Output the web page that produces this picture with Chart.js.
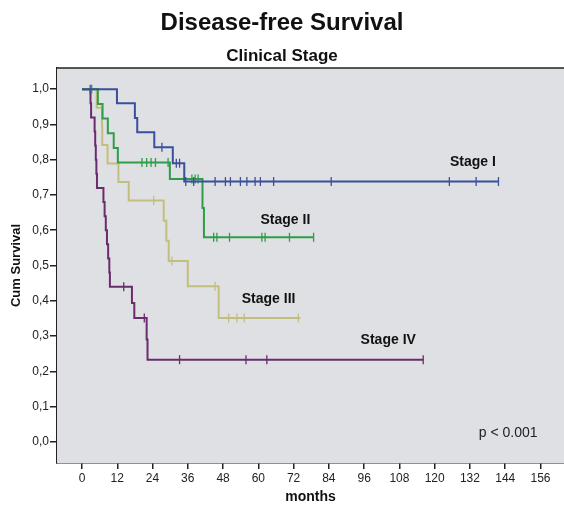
<!DOCTYPE html>
<html>
<head>
<meta charset="utf-8">
<script src="https://cdn.jsdelivr.net/npm/chart.js@4.4.0/dist/chart.umd.min.js"></script>
<style>
  html, body { margin: 0; padding: 0; background: #fff; overflow: hidden; }
  canvas { display: block; }
</style>
</head>
<body>
<canvas id="kmChart" width="564" height="506"></canvas>
<script>
// Kaplan-Meier curves: event times (months) and cum survival after each step
const timesI  = [0, 11.9, 18.0, 18.8, 24.6, 30.9, 34.8, 141.7];
const survI   = [1.0, 0.96, 0.918, 0.878, 0.835, 0.79, 0.738, 0.738];
const censI   = [2.8, 27.2, 32.1, 33.2, 35.3, 38.0, 45.3, 48.8, 50.5, 53.9, 56.1, 58.9, 60.7, 65.2, 84.8, 125.0, 134.1, 141.7];

const timesII = [0, 5.4, 7.0, 8.8, 10.8, 12.2, 29.9, 41.0, 41.5, 78.8];
const survII  = [1.0, 0.958, 0.917, 0.875, 0.833, 0.792, 0.745, 0.663, 0.58, 0.58];
const censII  = [3.3, 20.4, 22.0, 23.5, 25.0, 29.3, 37.4, 38.5, 39.5, 44.8, 45.9, 50.2, 61.2, 62.3, 70.6, 78.8];

const timesIII = [0, 5.0, 6.8, 6.9, 8.7, 12.4, 15.9, 27.8, 28.7, 29.5, 36.0, 46.5, 74.3];
const survIII  = [1.0, 0.947, 0.895, 0.842, 0.789, 0.737, 0.684, 0.627, 0.570, 0.513, 0.441, 0.351, 0.351];
const censIII  = [24.4, 30.6, 45.3, 49.9, 52.7, 55.2, 73.6];

const timesIV = [0, 2.9, 3.1, 4.3, 4.5, 4.7, 4.9, 5.1, 7.3, 7.7, 8.1, 8.5, 8.9, 9.3, 9.5, 17.0, 17.8, 22.0, 22.3, 116.1];
const survIV  = [1.0, 0.96, 0.92, 0.88, 0.84, 0.80, 0.76, 0.72, 0.68, 0.64, 0.60, 0.56, 0.52, 0.48, 0.44, 0.394, 0.351, 0.29, 0.233, 0.233];
const censIV  = [14.2, 21.2, 33.2, 55.8, 62.9, 116.1];

const stageLabels = ['Stage I', 'Stage II', 'Stage III', 'Stage IV'];
const xTicks = [0, 12, 24, 36, 48, 60, 72, 84, 96, 108, 120, 132, 144, 156];
const yTicks = [0, 0.1, 0.2, 0.3, 0.4, 0.5, 0.6, 0.7, 0.8, 0.9, 1.0];

const colors = ['#3b4f9d', '#2f9d48', '#c4be7e', '#6b2b6f'];

// survival value of the step curve at time t
function survAt(times, surv, t) {
    let s = surv[0];
    for (let i = 0; i < times.length; i++) {
        if (times[i] <= t) s = surv[i];
    }
    return s;
}

const curves = [
    [timesI, survI, censI],
    [timesII, survII, censII],
    [timesIII, survIII, censIII],
    [timesIV, survIV, censIV]
];

const datasets = [];
curves.forEach(([t, s, c], i) => {
    datasets.push({
        label: stageLabels[i],
        data: t.map((v, k) => ({ x: v, y: s[k] })),
        borderColor: colors[i],
        borderWidth: 2,
        stepped: true,
        pointRadius: 0,
        fill: false
    });
    datasets.push({
        label: stageLabels[i] + ' censored',
        data: c.map(v => ({ x: v, y: survAt(t, s, v) })),
        showLine: false,
        borderColor: colors[i],
        backgroundColor: colors[i],
        pointStyle: 'line',
        rotation: 90,
        pointRadius: 4.5,
        pointBorderWidth: 1.3
    });
});

// background of plot, frame, titles and in-plot labels
const decorations = {
    id: 'decorations',
    beforeDatasetsDraw(chart) {
        const { ctx, chartArea: a } = chart;
        ctx.save();
        ctx.fillStyle = '#dfe0e3';
        ctx.fillRect(a.left, a.top, a.right - a.left, a.bottom - a.top);
        ctx.restore();
    },
    afterDraw(chart) {
        const { ctx, chartArea: a, scales: { x, y } } = chart;
        ctx.save();
        ctx.strokeStyle = '#222';
        ctx.lineWidth = 1.5;
        ctx.beginPath();
        ctx.moveTo(a.left, a.top);
        ctx.lineTo(a.right, a.top);
        ctx.stroke();

        ctx.fillStyle = '#111';
        ctx.textAlign = 'center';
        ctx.textBaseline = 'middle';
        ctx.font = 'bold 24px "Liberation Sans"';
        ctx.fillText('Disease-free Survival', 282, 23);
        ctx.font = 'bold 17px "Liberation Sans"';
        ctx.fillText('Clinical Stage', 282, 56);

        ctx.font = 'bold 14px "Liberation Sans"';
        ctx.fillText(stageLabels[0], x.getPixelForValue(133), y.getPixelForValue(0.794));
        ctx.fillText(stageLabels[1], x.getPixelForValue(69.2), y.getPixelForValue(0.629));
        ctx.fillText(stageLabels[2], x.getPixelForValue(63.5), y.getPixelForValue(0.404));
        ctx.fillText(stageLabels[3], x.getPixelForValue(104.2), y.getPixelForValue(0.288));

        ctx.font = '14px "Liberation Sans"';
        ctx.fillStyle = '#222';
        ctx.fillText('p < 0.001', x.getPixelForValue(145), y.getPixelForValue(0.024));
        ctx.restore();
    }
};

Chart.defaults.font.family = '"Liberation Sans", Arial, sans-serif';

const ctx = document.getElementById('kmChart').getContext('2d');
const kmChart = new Chart(ctx, {
    type: 'line',
    data: { datasets: datasets },
    options: {
        responsive: false,
        animation: false,
        layout: { autoPadding: false, padding: { top: 68, left: 0, right: 0, bottom: 0 } },
        plugins: {
            legend: { display: false },
            tooltip: { enabled: false }
        },
        scales: {
            x: {
                type: 'linear',
                min: -8.5,
                max: 164,
                afterBuildTicks: s => { s.ticks = xTicks.map(v => ({ value: v })); },
                afterFit: s => { s.height = 43; s.paddingLeft = 0; s.paddingRight = 0; },
                grid: { drawOnChartArea: false, drawTicks: true, tickLength: 6, color: '#222', lineWidth: 1.5 },
                border: { display: true, color: '#222', width: 1.5 },
                ticks: { font: { size: 12 }, color: '#222', padding: 2, maxRotation: 0, autoSkip: false },
                title: { display: true, text: 'months', font: { size: 14, weight: 'bold' }, color: '#111', padding: { top: 0, bottom: 0 } }
            },
            y: {
                type: 'linear',
                min: -0.06,
                max: 1.06,
                afterBuildTicks: s => { s.ticks = yTicks.map(v => ({ value: v })); },
                afterFit: s => { s.width = 57; s.paddingTop = 0; s.paddingBottom = 0; },
                grid: { drawOnChartArea: false, drawTicks: true, tickLength: 7, color: '#222', lineWidth: 1.5 },
                border: { display: true, color: '#222', width: 1.5 },
                ticks: {
                    font: { size: 12 },
                    color: '#222',
                    padding: 1,
                    callback: v => v.toFixed(1).replace('.', ',')
                },
                title: { display: true, text: 'Cum Survival', font: { size: 13, weight: 'bold' }, color: '#111', padding: { top: 9, bottom: 0 } }
            }
        }
    },
    plugins: [decorations]
});
</script>
</body>
</html>
